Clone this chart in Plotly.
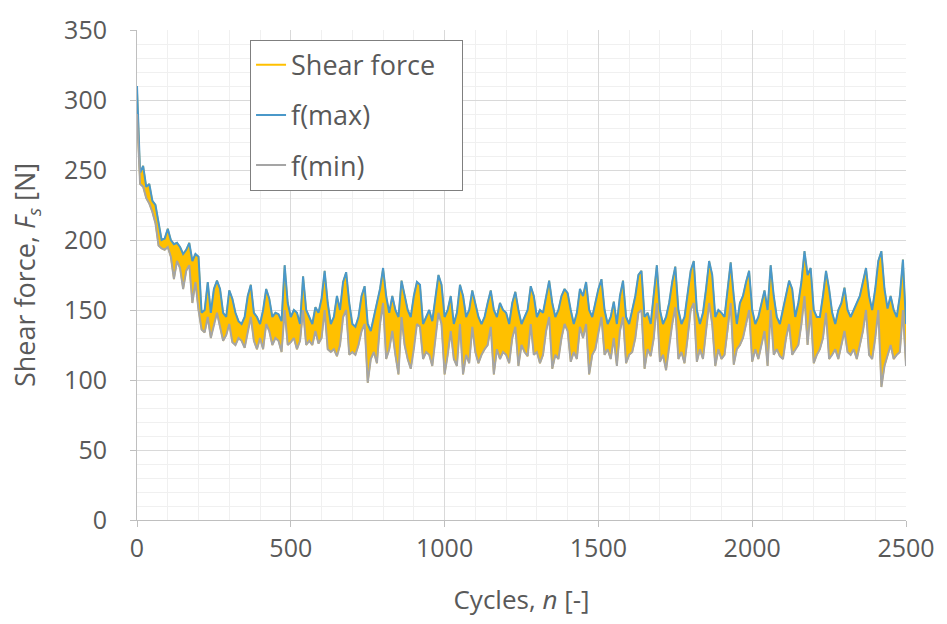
import plotly.graph_objects as go

cycles = list(range(0, 2501, 10))

f_max = [
    310, 248, 253, 238, 240, 228, 225, 212, 200, 201,
    208, 200, 197, 198, 195, 190, 193, 198, 185, 190,
    188, 148, 150, 170, 148, 165, 171, 165, 148, 145,
    164, 158, 148, 142, 140, 145, 160, 168, 148, 145,
    140, 150, 165, 158, 145, 148, 147, 142, 182, 155,
    145, 150, 148, 140, 174, 150, 145, 140, 152, 148,
    158, 178, 155, 140, 145, 160, 150, 170, 177, 155,
    140, 138, 145, 160, 167, 140, 135, 145, 155, 165,
    180, 160, 148, 160, 150, 145, 171, 160, 150, 145,
    160, 170, 168, 140, 145, 150, 142, 160, 175, 168,
    145, 150, 160, 140, 148, 168, 160, 145, 150, 164,
    155, 145, 140, 145, 155, 164, 150, 145, 155, 150,
    148, 140, 155, 163, 150, 140, 145, 150, 167, 160,
    145, 150, 148, 160, 171, 155, 145, 150, 160, 165,
    162, 150, 140, 148, 165, 160, 170, 150, 145, 155,
    165, 172, 150, 140, 145, 156, 140, 160, 171, 145,
    140, 150, 160, 175, 178, 145, 148, 140, 160, 182,
    150, 140, 145, 155, 170, 181, 150, 140, 145, 160,
    178, 185, 150, 140, 148, 165, 185, 175, 145, 150,
    148, 145, 165, 184, 160, 140, 155, 160, 170, 178,
    150, 140, 145, 155, 164, 150, 182, 160, 145, 140,
    150, 160, 171, 165, 145, 155, 170, 192, 175, 180,
    150, 145, 145, 160, 178, 165, 148, 140, 150, 155,
    166, 150, 145, 150, 155, 160, 170, 180, 160, 150,
    165, 185, 192, 165, 151, 160, 150, 145, 160, 186,
    140,
]

f_min = [
    290, 240, 238, 230, 226, 220, 212, 196, 194, 193,
    195, 188, 172, 185, 180, 165, 178, 182, 155, 170,
    150, 136, 134, 145, 130, 140, 148, 138, 128, 132,
    140, 127, 125, 130, 128, 123, 135, 145, 128, 122,
    130, 122, 140, 135, 125, 130, 128, 120, 150, 125,
    127, 130, 122, 128, 150, 125, 128, 125, 135, 126,
    130, 150, 122, 120, 122, 117, 125, 145, 150, 118,
    120, 118, 125, 135, 140, 98, 115, 120, 112, 140,
    155, 115, 122, 135, 118, 104, 145, 125, 115, 108,
    122, 140, 138, 115, 120, 118, 110, 130, 148, 140,
    104, 118, 135, 115, 110, 140, 104, 118, 112, 138,
    120, 112, 118, 122, 125, 138, 104, 122, 115, 120,
    118, 112, 130, 138, 110, 125, 120, 117, 140, 118,
    120, 112, 118, 135, 145, 108, 118, 115, 130, 140,
    135, 113, 120, 115, 138, 130, 140, 104, 118, 122,
    135, 145, 118, 122, 115, 130, 110, 135, 145, 112,
    118, 120, 130, 148, 150, 108, 122, 117, 130, 155,
    113, 118, 107, 125, 140, 152, 115, 120, 112, 130,
    150, 155, 113, 122, 115, 135, 155, 140, 110, 122,
    115, 118, 135, 155, 111, 122, 125, 130, 140, 150,
    113, 122, 115, 125, 135, 110, 150, 118, 122, 117,
    115, 130, 140, 118, 122, 125, 140, 160, 125, 150,
    112, 118, 122, 130, 148, 115, 118, 122, 115, 125,
    135, 120, 118, 122, 115, 125, 135, 150, 118, 115,
    130, 150, 95, 110, 118, 125, 115, 118, 120, 150,
    110,
]

x_ticks = [0, 500, 1000, 1500, 2000, 2500]
y_ticks = [0, 50, 100, 150, 200, 250, 300, 350]

YELLOW = "#FFC000"
BLUE = "#4A98C9"
GRAY = "#A5A5A5"
TXT = "#595959"
FONT = "Open Sans"

fig = go.Figure()

# legend entry for the shear force
fig.add_trace(go.Scatter(x=[None], y=[None], mode="lines",
                         name="Shear force&nbsp;&nbsp;&nbsp;",
                         line=dict(color=YELLOW, width=2), legendgroup="a"))
# shear force band between min and max
fig.add_trace(go.Scatter(x=cycles + cycles[::-1], y=f_max + f_min[::-1],
                         mode="lines", fill="toself", fillcolor=YELLOW,
                         line=dict(color=YELLOW, width=1.5), showlegend=False,
                         hoverinfo="skip", legendgroup="a"))
fig.add_trace(go.Scatter(x=cycles, y=f_max, mode="lines", name="f(max)",
                         line=dict(color=BLUE, width=2), legendgroup="b"))
fig.add_trace(go.Scatter(x=cycles, y=f_min, mode="lines", name="f(min)",
                         line=dict(color=GRAY, width=2), legendgroup="c"))

fig.update_layout(
    width=947, height=624,
    margin=dict(l=137, r=40, t=25, b=104),
    paper_bgcolor="white", plot_bgcolor="white",
    font=dict(family=FONT, size=25, color=TXT),
    legend=dict(x=0.147, y=0.98, xanchor="left", yanchor="top",
                bordercolor="#7F7F7F", borderwidth=1, bgcolor="white",
                font=dict(size=27, color=TXT), itemwidth=30,
                traceorder="grouped", tracegroupgap=12),
    showlegend=True,
)

fig.update_xaxes(
    range=[0, 2500], tickvals=x_ticks, ticktext=[str(v) for v in x_ticks],
    showgrid=True, gridcolor="#D9D9D9", gridwidth=1,
    minor=dict(dtick=100, showgrid=True, gridcolor="#F0F0F0"),
    showline=True, linecolor="#BFBFBF", linewidth=1,
    ticks="outside", ticklen=6, tickcolor="#BFBFBF",
    zeroline=False,
    title=dict(text="Cycles, <i>n</i> [-]", standoff=27, font=dict(size=26, color=TXT)),
)
fig.update_yaxes(
    range=[0, 350], tickvals=y_ticks, ticktext=[str(v) for v in y_ticks],
    showgrid=True, gridcolor="#D9D9D9", gridwidth=1,
    minor=dict(dtick=10, showgrid=True, gridcolor="#F0F0F0"),
    showline=True, linecolor="#BFBFBF", linewidth=1,
    ticks="outside", ticklen=6, tickcolor="#BFBFBF",
    zeroline=False, ticklabelstandoff=18,
    title=dict(text="Shear force, <i>F</i><sub><i>s</i></sub> [N]", standoff=20,
               font=dict(size=27, color=TXT)),
)

fig.write_html("out.html")
